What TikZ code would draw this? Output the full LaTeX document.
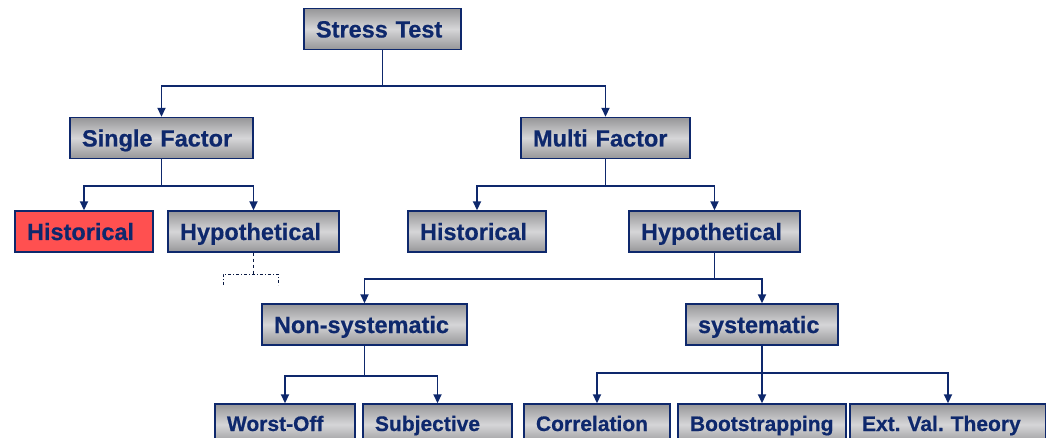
\documentclass[tikz,border=0pt]{standalone}
\usepackage{fontspec}
\setmainfont{Liberation Sans}[BoldFont={Liberation Sans Bold},BoldFeatures={FakeBold=0.6}]
\usetikzlibrary{arrows.meta,calc}
\definecolor{navy}{RGB}{14,40,108}
\definecolor{boxdark}{RGB}{150,150,152}
\definecolor{boxlight}{RGB}{214,214,216}
\definecolor{histred}{RGB}{255,80,80}
\tikzset{
  box/.style={draw=navy,line width=1.4pt,top color=boxdark,bottom color=boxdark,
    middle color=boxlight,text=navy,font=\fontsize{23.5}{25}\selectfont\bfseries,
    minimum height=41pt,inner xsep=12pt,inner ysep=0pt,align=left,
    text height=18.5pt,text depth=1.5pt},
  small/.style={font=\fontsize{21}{23}\selectfont\bfseries,text height=15pt,text depth=2pt},
  link/.style={draw=navy,line width=1.8pt},
  arr/.style={link,-{Triangle[length=9pt,width=8pt]}}
}
\frenchspacing
\begin{document}
\begin{tikzpicture}[x=1pt,y=-1pt]
   \useasboundingbox (0,0) rectangle (1046,438);
   \clip (0,0) rectangle (1046,438);

   \node[box,text width=133pt] (st) at (382.5,29) {Stress Test};
   \node[box,text width=159pt] (sf) at (161.5,138) {Single Factor};
   \node[box,text width=145pt] (mf) at (605.5,138) {Multi Factor};
   \node[box,text width=114pt,top color=histred,bottom color=histred,middle color=histred] (sh) at (84,231.5) {Historical};
   \node[box,text width=147pt] (sy) at (253.5,231.5) {Hypothetical};
   \node[box,text width=114pt] (mh) at (477,231.5) {Historical};
   \node[box,text width=147pt] (my) at (714.5,231.5) {Hypothetical};
   \node[box,text width=181pt] (ns) at (364.5,324.5) {Non-systematic};
   \node[box,text width=128pt] (sm) at (762,324.5) {systematic};
   \node[box,small,text width=116pt] (wo) at (285,424.5) {Worst-Off};
   \node[box,small,text width=125pt] (sj) at (437.5,424.5) {Subjective};
   \node[box,small,text width=122pt] (co) at (597,424.5) {Correlation};
   \node[box,small,text width=144pt] (bo) at (762,424.5) {Bootstrapping};
   \node[box,small,text width=172pt] (ev) at (948,424.5) {Ext. Val. Theory};

   \draw[link] (st.south) -- ++(0,36) coordinate (st-j);
   \draw[arr] (st-j) -| (sf.north);
   \draw[arr] (st-j) -| (mf.north);

   \draw[link] (sf.south) -- ++(0,27) coordinate (sf-j);
   \draw[arr] (sf-j) -| (sh.north);
   \draw[arr] (sf-j) -| (sy.north);

   \draw[link] (mf.south) -- ++(0,27) coordinate (mf-j);
   \draw[arr] (mf-j) -| (mh.north);
   \draw[arr] (mf-j) -| (my.north);

   \draw[link] (my.south) -- ++(0,26) coordinate (my-j);
   \draw[arr] (my-j) -| (ns.north);
   \draw[arr] (my-j) -| (sm.north);

   \draw[link] (ns.south) -- ++(0,30) coordinate (ns-j);
   \draw[arr] (ns-j) -| (wo.north);
   \draw[arr] (ns-j) -| (sj.north);

   \draw[link] (sm.south) -- ++(0,27) coordinate (sm-j);
   \draw[arr] (sm-j) -| (co.north);
   \draw[arr] (sm-j) -- (bo.north);
   \draw[arr] (sm-j) -| (ev.north);

   \coordinate (br-l) at (223,274);
   \coordinate (br-r) at (278,274);
   \draw[navy!60!black,line width=1pt,dashed] (sy.south) -- (sy.south |- br-l);
   \draw[navy!60!black,line width=1pt,dash dot] ($(br-l)+(0,11)$) -- (br-l) -- (br-r) -- ($(br-r)+(0,11)$);

 \end{tikzpicture}
\end{document}
